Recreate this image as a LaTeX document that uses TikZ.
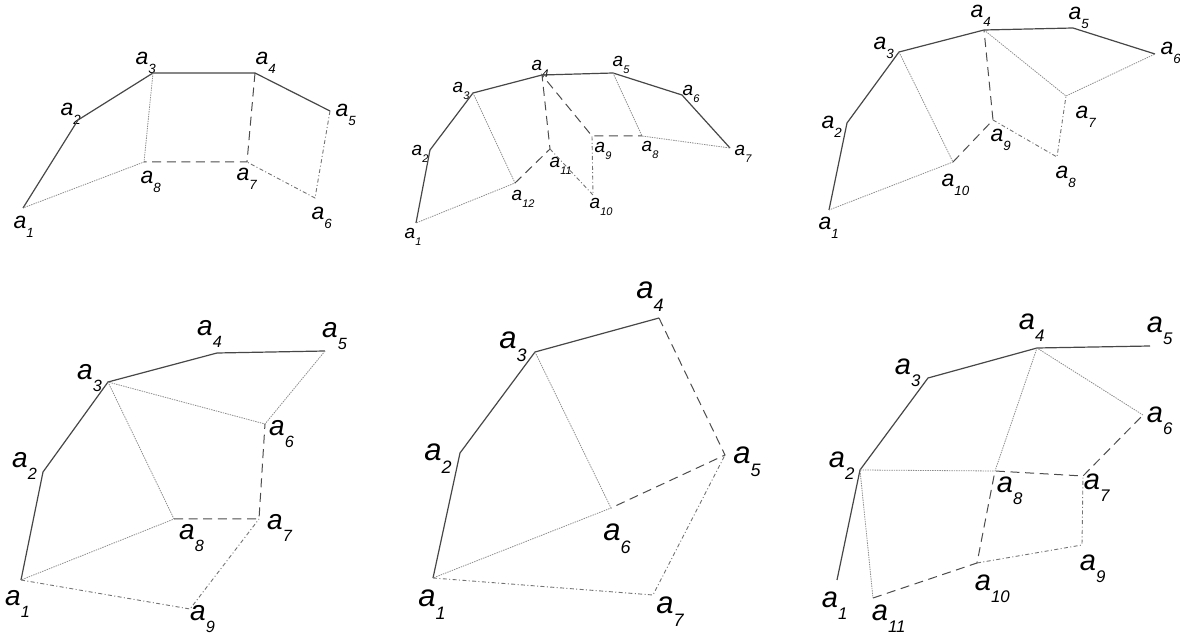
\documentclass[tikz,border=0pt]{standalone}
\usepackage{fontspec}
\setmainfont{Liberation Sans}

% nhãn đỉnh a_i (chỉ số nhỏ, hạ thấp)
\newcommand{\av}[1]{a\rlap{\smash{\raisebox{-0.42em}{\scalebox{0.58}{#1}}}}}

\tikzset{
  solidln/.style={draw=black!72, line width=0.6pt},
  dottedln/.style={draw=black!45, line width=0.4pt, dash pattern=on 0.7pt off 0.5pt},
  dashedln/.style={draw=black!70, line width=0.5pt, dash pattern=on 4.5pt off 2.8pt},
  dashdotln/.style={draw=black!55, line width=0.45pt, dash pattern=on 2pt off 1.2pt on 0.5pt off 1.2pt},
  lbl/.style={inner sep=0pt, font=\itshape\fontsize{#1}{#1}\selectfont}
}

\begin{document}
\begin{tikzpicture}[x=0.5pt, y=-0.5pt]
    \useasboundingbox (0,0) rectangle (1180,636);

    % Hình 1 (trên, trái)
    \foreach \i/\vx/\vy/\lx/\ly in {1/23/208/20/222, 2/78/120/67/109, 3/153/73/142/58,
        4/255/73/262/58, 5/330/111/342/110, 6/315/198/318/213, 7/247/162/243/174,
        8/144/162/147/177} {
        \coordinate (A\i) at (\vx,\vy);
        \node[lbl=11.5pt] (lA\i) at (\lx,\ly) {\av{\i}};
    }
    \draw[solidln] (A1) -- (A2) -- (A3) -- (A4) -- (A5);
    \draw[dottedln] (A3) -- (A8) -- (A1);
    \draw[dashedln] (A4) -- (A7) -- (A8);
    \draw[dashdotln] (A5) -- (A6) -- (A7);

    % Hình 2 (trên, giữa)
    \foreach \i/\vx/\vy/\lx/\ly in {1/416/223/410/233, 2/430/150/417/150, 3/473/93/458/87,
        4/542/75/537/65, 5/613/73/618/61, 6/682/95/688/90, 7/730/148/740/150,
        8/642/136/647/146, 9/592/136/600/147, 10/593/195/595/203, 11/550/149/555/162,
        12/515/183/517/195} {
        \coordinate (B\i) at (\vx,\vy);
        \node[lbl=9.5pt] (lB\i) at (\lx,\ly) {\av{\i}};
    }
    \draw[solidln] (B1) -- (B2) -- (B3) -- (B4) -- (B5) -- (B6) -- (B7);
    \draw[dottedln] (B3) -- (B12) -- (B1);
    \draw[dottedln] (B5) -- (B8) -- (B7);
    \draw[dashedln] (B12) -- (B11) -- (B4) -- (B9) -- (B8);
    \draw[dashdotln] (B11) -- (B10) -- (B9);

    % Hình 3 (trên, phải)
    \foreach \i/\vx/\vy/\lx/\ly in {1/829/210/825/223, 2/847/123/828/122, 3/899/52/880/43,
        4/984/30/977/11, 5/1073/28/1075/13, 6/1155/54/1167/48, 7/1066/96/1082/112,
        8/1057/157/1062/172, 9/993/120/997/135, 10/953/162/948/180} {
        \coordinate (C\i) at (\vx,\vy);
        \node[lbl=11.5pt] (lC\i) at (\lx,\ly) {\av{\i}};
    }
    \draw[solidln] (C1) -- (C2) -- (C3) -- (C4) -- (C5) -- (C6);
    \draw[dottedln] (C3) -- (C10) -- (C1);
    \draw[dottedln] (C4) -- (C7) -- (C6);
    \draw[dashedln] (C10) -- (C9) -- (C4);
    \draw[dashdotln] (C9) -- (C8) -- (C7);

    % Hình 4 (dưới, trái)
    \foreach \i/\vx/\vy/\lx/\ly in {1/21/580/13/598, 2/43/472/20/460, 3/108/382/85/372,
        4/217/353/205/328, 5/325/351/330/330, 6/265/424/277/428, 7/259/519/275/522,
        8/174/519/187/532, 9/190/609/198/613} {
        \coordinate (D\i) at (\vx,\vy);
        \node[lbl=14pt] (lD\i) at (\lx,\ly) {\av{\i}};
    }
    \draw[solidln] (D1) -- (D2) -- (D3) -- (D4) -- (D5);
    \draw[dottedln] (D5) -- (D6) -- (D3) -- (D8) -- (D1);
    \draw[dashedln] (D8) -- (D7) -- (D6);
    \draw[dashdotln] (D1) -- (D9) -- (D7);

    % Hình 5 (dưới, giữa)
    \foreach \i/\vx/\vy/\lx/\ly in {1/433/578/427/598, 2/460/453/433/452, 3/535/352/508/340,
        4/659/318/645/290, 5/725/455/742/455, 6/611/508/612/532, 7/653/595/665/605} {
        \coordinate (E\i) at (\vx,\vy);
        \node[lbl=15.5pt] (lE\i) at (\lx,\ly) {\av{\i}};
    }
    \draw[solidln] (E1) -- (E2) -- (E3) -- (E4);
    \draw[dottedln] (E3) -- (E6) -- (E1);
    \draw[dashedln] (E4) -- (E5) -- (E6);
    \draw[dashdotln] (E1) -- (E7) -- (E5);

    % Hình 6 (dưới, phải)
    \foreach \i/\vx/\vy/\lx/\ly in {1/837/580/830/600, 2/860/470/837/460, 3/928/378/903/367,
        4/1037/348/1027/322, 5/1150/346/1155/325, 6/1143/415/1155/415, 7/1083/476/1092/482,
        8/995/471/1005/485, 9/1082/545/1088/563, 10/977/563/983/583, 11/873/598/880/613} {
        \coordinate (F\i) at (\vx,\vy);
        \node[lbl=14.5pt] (lF\i) at (\lx,\ly) {\av{\i}};
    }
    \draw[solidln] (F1) -- (F2) -- (F3) -- (F4) -- (F5);
    \draw[dottedln] (F6) -- (F4) -- (F8) -- (F2) -- (F11);
    \draw[dashedln] (F11) -- (F10) -- (F8) -- (F7) -- (F6);
    \draw[dashdotln] (F10) -- (F9) -- (F7);

\end{tikzpicture}
\end{document}
